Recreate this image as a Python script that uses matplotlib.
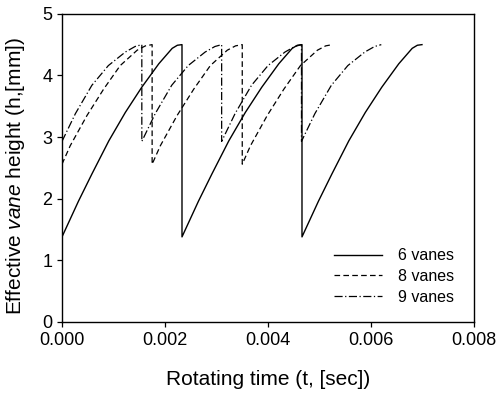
import matplotlib
matplotlib.use("Agg")
import matplotlib.pyplot as plt
import numpy as np

plt.rcParams['font.family'] = ['Liberation Sans', 'DejaVu Sans']
plt.rcParams['mathtext.fontset'] = 'custom'
plt.rcParams['mathtext.rm'] = 'Liberation Sans'
plt.rcParams['mathtext.it'] = 'Liberation Sans:italic'

# Profiles of one vane pass (time from segment start in ms, height in mm)
dt6_ms = [0.00, 0.32, 0.58, 0.91, 1.23, 1.55, 1.88, 2.14, 2.24, 2.33]
h6 = [1.38, 1.96, 2.40, 2.94, 3.40, 3.81, 4.19, 4.44, 4.49, 4.50]
starts6_ms = [0.00, 2.33, 4.66]

dt8_ms = [0.00, 0.16, 0.485, 0.81, 1.13, 1.46, 1.62, 1.75]
h8 = [2.56, 2.86, 3.35, 3.78, 4.16, 4.41, 4.48, 4.50]
starts8_ms = [0.00, 1.75, 3.50]

dt9_ms = [0.00, 0.26, 0.58, 0.90, 1.23, 1.42, 1.55]
h9 = [2.93, 3.38, 3.84, 4.16, 4.38, 4.47, 4.50]
starts9_ms = [0.00, 1.55, 3.10, 4.65]

labels = ['6 vanes', '8 vanes', '9 vanes']
xticks = [0.000, 0.002, 0.004, 0.006, 0.008]
yticks = [0, 1, 2, 3, 4, 5]


def build(dt_ms, h, starts_ms):
    t_all, h_all = [], []
    for s in starts_ms:
        t_all += [(s + d) / 1000.0 for d in dt_ms]
        h_all += list(h)
    return np.array(t_all), np.array(h_all)


fig = plt.figure(figsize=(5.0, 3.95), dpi=100)
ax = fig.add_axes([0.124, 0.185, 0.824, 0.780])

t6, y6 = build(dt6_ms, h6, starts6_ms)
t8, y8 = build(dt8_ms, h8, starts8_ms)
t9, y9 = build(dt9_ms, h9, starts9_ms)

ax.plot(t6, y6, color='black', lw=1.0, label=labels[0])
ax.plot(t8, y8, color='black', lw=0.9, dashes=(4.5, 2.6), label=labels[1])
ax.plot(t9, y9, color='black', lw=0.9, dashes=(6.5, 2.0, 1.0, 2.0), label=labels[2])

ax.set_xlim(0, 0.008)
ax.set_ylim(0, 5)
ax.set_xticks(xticks)
ax.set_xticklabels([f"{v:.3f}" for v in xticks])
ax.set_yticks(yticks)
ax.tick_params(direction='out', length=3.5, width=0.9, labelsize=13, colors='black')
for sp in ax.spines.values():
    sp.set_linewidth(1.0)
    sp.set_color('black')

ax.set_xlabel('Rotating time (t, [sec])', fontsize=15)
ax.set_ylabel(r'Effective $\mathit{vane}$ height (h,[mm])', fontsize=15)
ax.xaxis.set_label_coords(0.5, -0.188)
ax.xaxis.label.set_va('center')
ax.yaxis.set_label_coords(-0.112, 0.474)
ax.yaxis.label.set_va('center')

leg = ax.legend(loc='lower right', bbox_to_anchor=(0.975, 0.025), frameon=False,
                fontsize=11.5, handlelength=3.0, handletextpad=1.0,
                labelspacing=0.35, borderaxespad=0.2)

fig.savefig('out.png', dpi=100)
